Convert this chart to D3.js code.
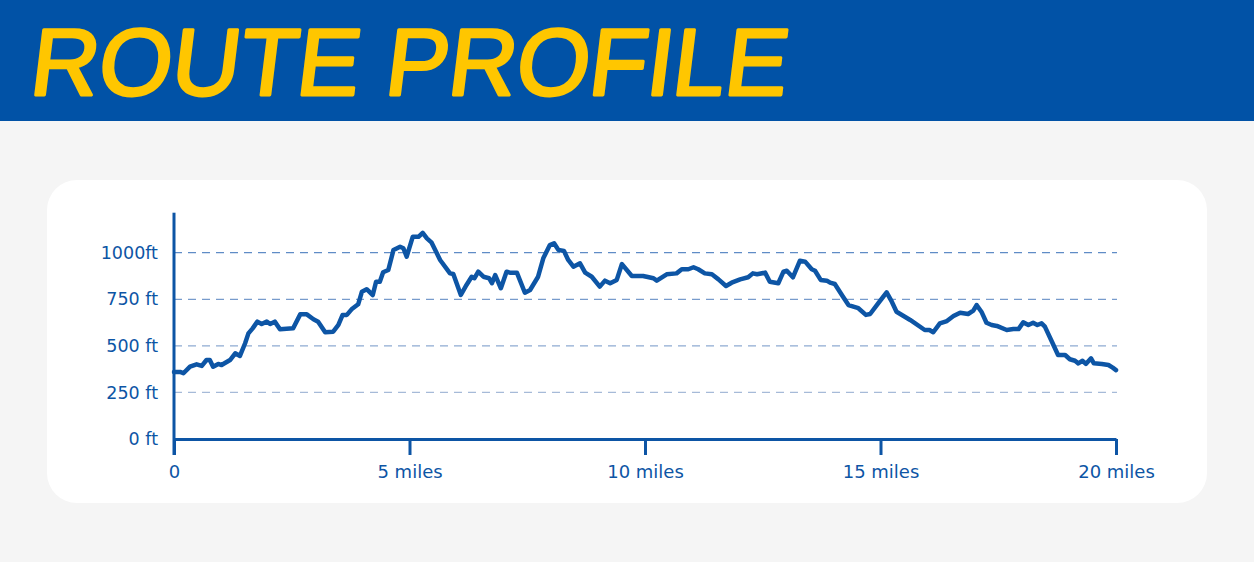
<!DOCTYPE html>
<html>
<head>
<meta charset="utf-8">
<script src="https://cdn.jsdelivr.net/npm/d3@7"></script>
<style>
  html, body { margin: 0; padding: 0; background: #f5f5f5; }
  svg { display: block; }
</style>
</head>
<body>
<script>
(function (d3) {
  'use strict';

  // route profile: miles along the route, elevation in feet
  const miles = [
    0, 0.13, 0.20, 0.34, 0.48, 0.59, 0.69, 0.76, 0.83, 0.94, 1.01, 1.19, 1.30, 1.40, 1.51, 1.58,
    1.67, 1.77, 1.86, 1.97, 2.04, 2.14, 2.25, 2.53, 2.68, 2.82, 2.96, 3.06, 3.21, 3.38, 3.49, 3.58,
    3.67, 3.77, 3.91, 3.99, 4.09, 4.22, 4.29, 4.37, 4.44, 4.55, 4.66, 4.80, 4.87, 4.94, 5.07, 5.19,
    5.28, 5.37, 5.47, 5.65, 5.86, 5.93, 6.09, 6.21, 6.32, 6.38, 6.46, 6.57, 6.69, 6.75, 6.82, 6.94,
    7.06, 7.13, 7.28, 7.45, 7.56, 7.73, 7.84, 7.98, 8.07, 8.16, 8.28, 8.37, 8.48, 8.62, 8.73, 8.87,
    9.04, 9.15, 9.26, 9.40, 9.51, 9.72, 9.96, 10.18, 10.25, 10.46, 10.67, 10.78, 10.92, 11.03, 11.13,
    11.27, 11.42, 11.56, 11.72, 11.84, 12.02, 12.19, 12.29, 12.38, 12.55, 12.65, 12.83, 12.94, 13.01,
    13.14, 13.29, 13.40, 13.54, 13.61, 13.73, 13.86, 13.93, 14.03, 14.18, 14.32, 14.53, 14.69, 14.78,
    14.95, 15.13, 15.24, 15.34, 15.63, 15.94, 16.04, 16.12, 16.26, 16.41, 16.55, 16.69, 16.86, 16.97,
    17.04, 17.15, 17.25, 17.36, 17.47, 17.68, 17.82, 17.93, 18.03, 18.14, 18.24, 18.33, 18.42, 18.49,
    18.64, 18.77, 18.92, 19.02, 19.13, 19.20, 19.29, 19.36, 19.47, 19.53, 19.70, 19.84, 19.93, 20
  ];
  const elevation = [
    360, 360, 353, 388, 401, 392, 424, 424, 388, 403, 397, 424, 460, 446, 514, 567,
    594, 630, 617, 630, 617, 630, 589, 594, 669, 669, 643, 630, 573, 576, 612, 666,
    666, 696, 723, 791, 804, 773, 844, 844, 895, 907, 1015, 1032, 1024, 979, 1086, 1085,
    1107, 1077, 1054, 961, 889, 886, 773, 827, 871, 863, 898, 871, 863, 836, 880, 809,
    898, 893, 893, 785, 800, 871, 970, 1041, 1051, 1015, 1009, 961, 925, 943, 893, 871,
    818, 850, 836, 854, 939, 875, 875, 863, 850, 884, 889, 911, 911, 922, 911,
    889, 884, 857, 821, 839, 857, 868, 889, 884, 893, 844, 836, 898, 903,
    868, 957, 952, 911, 903, 854, 850, 839, 832, 773, 719, 702, 666, 671,
    728, 787, 737, 683, 639, 585, 585, 573, 621, 633, 660, 678, 671, 689,
    719, 680, 624, 612, 607, 585, 590, 590, 626, 612, 624, 612, 621, 603,
    522, 451, 451, 428, 420, 406, 420, 403, 433, 406, 403, 397, 383, 370
  ];

  const xTicks = [0, 5, 10, 15, 20];
  const xTickLabels = ['0', '5 miles', '10 miles', '15 miles', '20 miles'];
  const yTicks = [0, 250, 500, 750, 1000];
  const yTickLabels = ['0 ft', '250 ft', '500 ft', '750 ft', '1000ft'];
  const title = 'ROUTE PROFILE';

  const width = 1254;
  const height = 562;
  const blue = '#0d55a5';
  const yellow = '#ffc600';
  const font = '"DejaVu Sans", sans-serif';

  const svg = d3.select('body')
    .append('svg')
    .attr('width', width)
    .attr('height', height);

  svg.append('rect')
    .attr('width', width)
    .attr('height', height)
    .attr('fill', '#f5f5f5');

  // header band
  svg.append('rect')
    .attr('width', width)
    .attr('height', 121)
    .attr('fill', '#0152a6');

  // upright face slanted by hand, stroked a little for weight
  svg.append('text')
    .attr('transform', 'translate(28,94.5) skewX(-7)')
    .attr('font-family', '"Liberation Sans", Arial, sans-serif')
    .attr('font-size', 95)
    .attr('textLength', 757)
    .attr('lengthAdjust', 'spacingAndGlyphs')
    .attr('fill', yellow)
    .attr('stroke', yellow)
    .attr('stroke-width', 3)
    .attr('stroke-linejoin', 'round')
    .text(title);

  // card
  svg.append('rect')
    .attr('x', 47)
    .attr('y', 180)
    .attr('width', 1160)
    .attr('height', 323)
    .attr('rx', 30)
    .attr('fill', '#ffffff');

  const x = d3.scaleLinear()
    .domain([0, 20])
    .range([174, 1116]);

  const y = d3.scaleLinear()
    .domain([0, 1000])
    .range([439, 252.7]);

  // dashed gridlines
  const gridColor = d3.scaleLinear()
    .domain([250, 1000])
    .range(['#a6bad8', '#5f8cc6']);

  svg.append('g')
    .selectAll('line')
    .data(yTicks.filter((d) => d > 0))
    .join('line')
    .attr('x1', x(0))
    .attr('x2', x(20) + 1)
    .attr('y1', (d) => y(d))
    .attr('y2', (d) => y(d))
    .attr('stroke', (d) => gridColor(d))
    .attr('stroke-width', 1.3)
    .attr('stroke-dasharray', '8 6');

  // y axis
  const yAxis = svg.append('g')
    .attr('transform', `translate(${x(0)},0)`)
    .call(d3.axisLeft(y)
      .tickValues(yTicks)
      .tickFormat((d, i) => yTickLabels[i])
      .tickSize(0)
      .tickPadding(16));
  yAxis.select('.domain').remove();
  yAxis.selectAll('text')
    .attr('font-family', font)
    .attr('font-size', 17.5)
    .attr('fill', blue);

  // x axis
  const xAxis = svg.append('g')
    .attr('transform', `translate(0,${y(0)})`)
    .call(d3.axisBottom(x)
      .tickValues(xTicks)
      .tickFormat((d, i) => xTickLabels[i])
      .tickSize(16)
      .tickSizeOuter(0)
      .tickPadding(10));
  xAxis.select('.domain')
    .attr('stroke', blue)
    .attr('stroke-width', 3);
  xAxis.selectAll('line')
    .attr('stroke', blue)
    .attr('stroke-width', 3);
  xAxis.selectAll('text')
    .attr('font-family', font)
    .attr('font-size', 18)
    .attr('fill', blue);

  // vertical axis line, running down through the 0 tick
  svg.append('line')
    .attr('x1', x(0))
    .attr('x2', x(0))
    .attr('y1', y(1000) - 40)
    .attr('y2', y(0) + 16)
    .attr('stroke', blue)
    .attr('stroke-width', 3);

  // elevation line
  const points = miles.map((m, i) => [m, elevation[i]]);
  const line = d3.line()
    .x((d) => x(d[0]))
    .y((d) => y(d[1]));

  svg.append('path')
    .datum(points)
    .attr('d', line)
    .attr('fill', 'none')
    .attr('stroke', blue)
    .attr('stroke-width', 4.5)
    .attr('stroke-linejoin', 'round')
    .attr('stroke-linecap', 'round');

})(d3);
</script>
</body>
</html>
